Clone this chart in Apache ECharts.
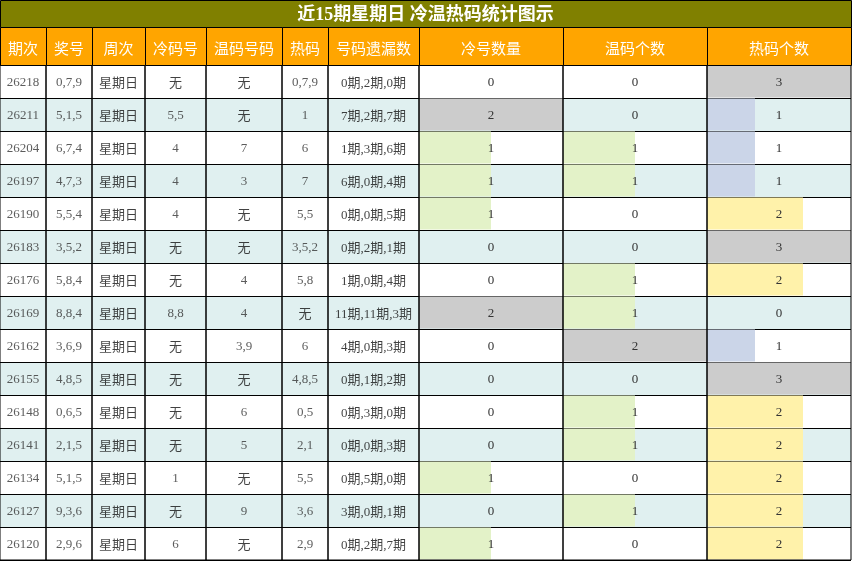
<!DOCTYPE html>
<html><head><meta charset="utf-8">
<script src="https://cdn.jsdelivr.net/npm/echarts@6.0.0/dist/echarts.min.js"></script>
<style>html,body{margin:0;padding:0;background:#fff}#c{width:852px;height:561px}</style>
</head><body><div id="c"></div>
<script>
// ---------------- data ----------------
const titleText = '近15期星期日 冷温热码统计图示';
const headers = ['期次','奖号','周次','冷码号','温码号码','热码','号码遗漏数','冷号数量','温码个数','热码个数'];
const periods = ['26218','26211','26204','26197','26190','26183','26176','26169','26162','26155','26148','26141','26134','26127','26120'];
const draws = ['0,7,9','5,1,5','6,7,4','4,7,3','5,5,4','3,5,2','5,8,4','8,8,4','3,6,9','4,8,5','0,6,5','2,1,5','5,1,5','9,3,6','2,9,6'];
const weekdays = ['星期日','星期日','星期日','星期日','星期日','星期日','星期日','星期日','星期日','星期日','星期日','星期日','星期日','星期日','星期日'];
const coldNums = ['无','5,5','4','4','4','无','无','8,8','无','无','无','无','1','无','6'];
const warmNums = ['无','无','7','3','无','无','4','4','3,9','无','6','5','无','9','无'];
const hotNums = ['0,7,9','1','6','7','5,5','3,5,2','5,8','无','6','4,8,5','0,5','2,1','5,5','3,6','2,9'];
const omissions = ['0期,2期,0期','7期,2期,7期','1期,3期,6期','6期,0期,4期','0期,0期,5期','0期,2期,1期','1期,0期,4期','11期,11期,3期','4期,0期,3期','0期,1期,2期','0期,3期,0期','0期,0期,3期','0期,5期,0期','3期,0期,1期','0期,2期,7期'];
const coldCounts = [0,2,1,1,1,0,0,2,0,0,0,0,1,0,1];
const warmCounts = [0,0,1,1,0,0,1,1,2,0,1,1,0,1,0];
const hotCounts = [3,1,1,1,2,3,2,0,1,3,2,2,2,2,2];

// ---------------- layout & style ----------------
const edges = [0,46,92,145,206,282,328,419,563,707,851];
const TITLE_H = 27, HEAD_TOP = 27, HEAD_H = 38, BODY_TOP = 65, ROW_H = 33;
const ROW_COLORS = ['#ffffff', '#e0f0f0'];
const coldWarmColors = {1: '#e3f2c8', 2: '#cccccc'};
const hotColors = {1: '#cbd5e8', 2: '#fff2aa', 3: '#cccccc'};
const FONT = "'Liberation Serif','Times New Roman','Noto Sans CJK SC',serif";
const CJK = "'Noto Sans CJK SC','Noto Sans',sans-serif";
const NUM_SHIFT = 1.5, CJK_SHIFT = 2.5;

const textCols = [periods, draws, weekdays, coldNums, warmNums, hotNums, omissions];
const countCols = [
  {data: coldCounts, colors: coldWarmColors},
  {data: warmCounts, colors: coldWarmColors},
  {data: hotCounts, colors: hotColors}
];

const hasCJK = s => /[\u4e00-\u9fff]/.test(String(s));
function cellText(s) {
  s = String(s);
  return hasCJK(s) ? '{k|' + s + '}' : s;
}
const labelBase = {
  show: true, position: 'inside',
  fontFamily: FONT, fontSize: 13, color: '#333',
  rich: { k: { fontFamily: FONT, fontSize: 13, color: '#111' } }
};

const grids = [], xAxes = [], yAxes = [], series = [];
const nRows = periods.length;
const bodyH = ROW_H * nRows;

function yAxisFor(i) {
  return {
    type: 'category', gridIndex: i, data: periods, inverse: true,
    axisLine: {show: false}, axisTick: {show: false}, axisLabel: {show: false},
    splitLine: {show: true, interval: 0, lineStyle: {color: '#000', width: 1}},
    splitArea: {show: true, interval: 0, areaStyle: {color: ROW_COLORS}}
  };
}

for (let i = 0; i < edges.length - 1; i++) {
  grids.push({
    left: edges[i], top: BODY_TOP, width: edges[i + 1] - edges[i], height: bodyH,
    show: true, z: 5, borderColor: '#000', borderWidth: 1, backgroundColor: 'transparent'
  });
  yAxes.push(yAxisFor(i));
}

// text columns
textCols.forEach((col, i) => {
  xAxes.push({
    type: 'category', gridIndex: i, data: [headers[i]],
    axisLine: {show: false}, axisTick: {show: false}, axisLabel: {show: false}, splitLine: {show: false}
  });
  series.push({
    type: 'scatter', xAxisIndex: i, yAxisIndex: i, silent: true,
    symbol: 'rect', symbolSize: 1, itemStyle: {color: 'transparent'},
    data: periods.map((p, j) => ({
      value: [headers[i], p],
      label: {offset: [0, hasCJK(col[j]) ? CJK_SHIFT : NUM_SHIFT]}
    })),
    label: Object.assign({}, labelBase, {formatter: pr => cellText(col[pr.dataIndex])})
  });
});

// count (bar) columns
countCols.forEach((cc, k) => {
  const i = textCols.length + k;
  const maxV = Math.max.apply(null, cc.data);
  xAxes.push({
    type: 'value', gridIndex: i, min: 0, max: maxV,
    axisLine: {show: false}, axisTick: {show: false}, axisLabel: {show: false}, splitLine: {show: false}
  });
  series.push({
    type: 'bar', xAxisIndex: i, yAxisIndex: i, silent: true,
    barWidth: ROW_H - 1, barGap: '-100%',
    data: cc.data.map(v => ({value: v, itemStyle: {color: cc.colors[v] || 'transparent'}})),
    label: {show: false}
  });
  series.push({
    type: 'bar', xAxisIndex: i, yAxisIndex: i, silent: true,
    barWidth: ROW_H - 1, barGap: '-100%',
    data: cc.data.map(() => maxV),
    itemStyle: {color: 'transparent'},
    label: Object.assign({}, labelBase, {offset: [0, NUM_SHIFT], formatter: pr => String(cc.data[pr.dataIndex])})
  });
});

// title + header (text furniture)
const totalW = edges[edges.length - 1];
const graphics = [];
graphics.push({
  type: 'rect', z: 10,
  shape: {x: 0.5, y: 0.5, width: totalW, height: TITLE_H},
  style: {fill: '#808000', stroke: '#000', lineWidth: 1}
});
graphics.push({
  type: 'text', z: 11, x: totalW / 2, y: TITLE_H / 2 + 1.5,
  style: {text: titleText, fill: '#fff', font: "bold 18px " + FONT,
          align: 'center', verticalAlign: 'middle', textAlign: 'center', textVerticalAlign: 'middle'}
});
for (let i = 0; i < headers.length; i++) {
  graphics.push({
    type: 'rect', z: 10,
    shape: {x: edges[i] + 0.5, y: HEAD_TOP + 0.5, width: edges[i + 1] - edges[i], height: HEAD_H},
    style: {fill: '#FFA500', stroke: '#000', lineWidth: 1}
  });
  graphics.push({
    type: 'text', z: 11, x: (edges[i] + edges[i + 1]) / 2, y: HEAD_TOP + HEAD_H / 2 + 2,
    style: {text: headers[i], fill: '#fff', font: "15px " + CJK,
            align: 'center', verticalAlign: 'middle', textAlign: 'center', textVerticalAlign: 'middle'}
  });
}

const chart = echarts.init(document.getElementById('c'), null, {renderer: 'canvas'});
chart.setOption({
  animation: false,
  backgroundColor: '#fff',
  grid: grids, xAxis: xAxes, yAxis: yAxes, series: series,
  graphic: graphics
});
</script>
</body></html>
